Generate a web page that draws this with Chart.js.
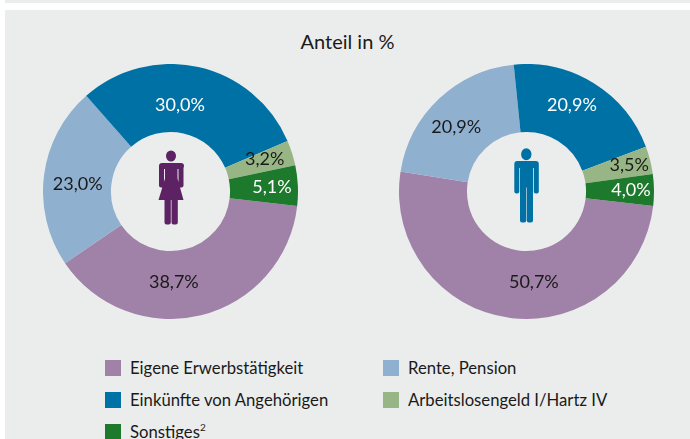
<!DOCTYPE html>
<html lang="de">
<head>
<meta charset="utf-8">
<title>Anteil in %</title>
<script src="https://cdn.jsdelivr.net/npm/chart.js@4"></script>
<style>
html, body { margin: 0; padding: 0; background: #fff; overflow: hidden; }
body { width: 690px; height: 439px; position: relative; font-family: Lato, sans-serif; color: #1a1a1a; }
#strip { position: absolute; left: 5px; top: 0; width: 685px; height: 3px; background: #ebeded; }
#panel { position: absolute; left: 5px; top: 10px; width: 685px; height: 429px; background: #ebeded; overflow: hidden; }
#title { position: absolute; left: 5px; width: 685px; top: 29px; text-align: center; font-size: 20px; line-height: 24px; }
canvas { position: absolute; top: 64px; }
#chartWomen { left: 43px; }
#chartMen { left: 399px; }
.item { position: absolute; font-size: 16.7px; line-height: 20px; white-space: nowrap; }
.item i { position: absolute; left: -25px; top: 2px; width: 16px; height: 16px; }
.item sup { font-size: 10px; line-height: 0; }
</style>
</head>
<body>
<div id="strip"></div>
<div id="panel"></div>
<div id="title">Anteil in %</div>
<canvas id="chartWomen" width="255" height="255"></canvas>
<canvas id="chartMen" width="255" height="255"></canvas>
<div id="legend"></div>
<script>
// data
const categories = ['Eigene Erwerbstätigkeit', 'Rente, Pension', 'Einkünfte von Angehörigen', 'Arbeitslosengeld I/Hartz IV', 'Sonstiges'];
const women = [38.7, 23.0, 30.0, 3.2, 5.1];
const men = [50.7, 20.9, 20.9, 3.5, 4.0];

const colors = ['#a081a8', '#8fb0cf', '#0071a4', '#98b685', '#1d7a2c'];
const labelColors = ['#1a1a1a', '#1a1a1a', '#fff', '#1a1a1a', '#fff'];

// nudges so the labels sit where they do in the original
const womenNudge = [[-19, 0], [0, 4], [-11, 5], [5, -4], [8, 0]];
const menNudge = [[20, -2], [-6, 4], [-4, -7], [12, -3], [11, 0]];

// percentage labels on the slices
const sliceLabels = {
    id: 'sliceLabels',
    afterDatasetsDraw(chart, args, opts) {
        const c = chart.ctx;
        c.save();
        c.font = '18px Lato, sans-serif';
        c.textAlign = 'center';
        c.textBaseline = 'middle';
        chart.getDatasetMeta(0).data.forEach((arc, i) => {
            const p = arc.getCenterPoint();
            c.fillStyle = labelColors[i];
            const text = chart.data.datasets[0].data[i].toFixed(1).replace('.', ',') + '%';
            c.fillText(text, p.x + opts.nudge[i][0], p.y + opts.nudge[i][1]);
        });
        c.restore();
    }
};

// little person in the hole of the ring
const figure = {
    id: 'figure',
    afterDraw(chart, args, opts) {
        const c = chart.ctx;
        const m = chart.getDatasetMeta(0).data[0];
        c.save();
        c.translate(m.x, m.y);
        c.fillStyle = opts.color;
        c.beginPath();
        if (opts.kind === 'woman') {
            c.ellipse(0.5, -35.5, 5, 5.5, 0, 0, Math.PI * 2);
            c.roundRect(-11.5, -28.5, 25, 6, 3);
            c.roundRect(-11.5, -27, 5, 23, 2);
            c.roundRect(8, -27, 5, 23, 2);
            c.rect(-5.5, -28, 12.5, 16);
            c.moveTo(-5.5, -13);
            c.lineTo(7, -13);
            c.lineTo(13, 8.5);
            c.lineTo(-12, 8.5);
            c.closePath();
            c.roundRect(-6, 6, 6.3, 27, 2);
            c.roundRect(1, 6, 6.3, 27, 2);
        } else {
            c.ellipse(-0.2, -37.2, 5.2, 6, 0, 0, Math.PI * 2);
            c.roundRect(-12.2, -30.5, 24.5, 7, 3);
            c.roundRect(-12.2, -29, 5, 31, 2);
            c.roundRect(7.3, -29, 5, 31, 2);
            c.rect(-6.5, -30, 13, 26);
            c.roundRect(-6.5, -6, 6.2, 37, 2);
            c.roundRect(0.3, -6, 6.2, 37, 2);
        }
        c.fill();
        c.restore();
    }
};

function makeChart(id, values, nudge, kind, color) {
    return new Chart(document.getElementById(id), {
        type: 'doughnut',
        data: {
            labels: categories,
            datasets: [{ data: values, backgroundColor: colors, borderWidth: 0 }]
        },
        options: {
            responsive: false,
            animation: false,
            rotation: 96.5,
            cutout: '46.7%',
            layout: { padding: 0 },
            plugins: {
                legend: { display: false },
                tooltip: { enabled: false },
                sliceLabels: { nudge: nudge },
                figure: { kind: kind, color: color }
            }
        },
        plugins: [sliceLabels, figure]
    });
}

makeChart('chartWomen', women, womenNudge, 'woman', '#5c2263');
makeChart('chartMen', men, menNudge, 'man', '#0071a4');

// legend, same order as the original
const legendSlots = [
    { cat: 0, x: 130, y: 358 },
    { cat: 1, x: 408, y: 358 },
    { cat: 2, x: 130, y: 390 },
    { cat: 3, x: 408, y: 390 },
    { cat: 4, x: 130, y: 422 }
];
const legend = document.getElementById('legend');
legendSlots.forEach(s => {
    const el = document.createElement('div');
    el.className = 'item';
    el.style.left = s.x + 'px';
    el.style.top = s.y + 'px';
    const box = document.createElement('i');
    box.style.background = colors[s.cat];
    el.appendChild(box);
    el.appendChild(document.createTextNode(categories[s.cat]));
    if (s.cat === 4) {
        const sup = document.createElement('sup');
        sup.textContent = '2';
        el.appendChild(sup);
    }
    legend.appendChild(el);
});
</script>
</body>
</html>
